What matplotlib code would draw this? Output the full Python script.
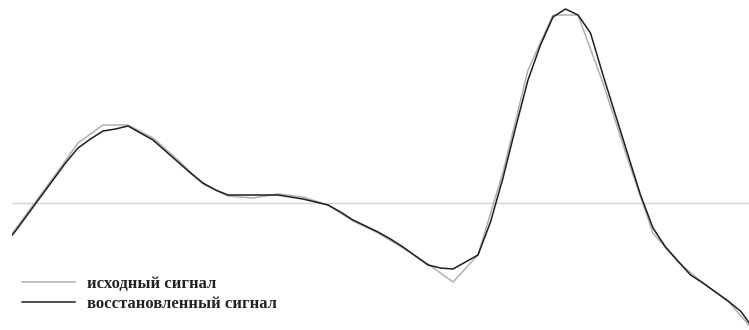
import numpy as np
import matplotlib.pyplot as plt

# исходный сигнал: отсчёты с шагом 1
t_src = np.arange(31)
y_src = [-0.43, -0.09, 0.25, 0.60, 0.78, 0.78, 0.65, 0.43, 0.19, 0.07,
         0.05, 0.09, 0.06, -0.02, -0.18, -0.30, -0.45, -0.61, -0.79, -0.52,
         0.31, 1.33, 1.88, 1.88, 1.20, 0.43, -0.30, -0.59, -0.80, -0.98,
         -1.27]

# восстановленный сигнал: шаг 0.5
t_rec = np.arange(61) * 0.5
y_rec = [-0.43, -0.28, -0.11, 0.06, 0.23, 0.40, 0.55, 0.64, 0.72, 0.74,
         0.77, 0.70, 0.63, 0.52, 0.41, 0.30, 0.20, 0.13, 0.08, 0.08,
         0.08, 0.08, 0.08, 0.06, 0.04, 0.01, -0.02, -0.09, -0.17, -0.23,
         -0.29, -0.36, -0.44, -0.53, -0.62, -0.65, -0.66, -0.59, -0.52, -0.19,
         0.25, 0.75, 1.23, 1.58, 1.86, 1.94, 1.88, 1.70, 1.28, 0.88,
         0.48, 0.08, -0.25, -0.44, -0.58, -0.72, -0.80, -0.89, -0.98, -1.08,
         -1.25]

labels = ["исходный сигнал", "восстановленный сигнал"]

W, H = 749, 330
fig = plt.figure(figsize=(W / 100, H / 100), dpi=100)
ax = fig.add_axes([12 / W, 0, 1 - 12 / W, 1])

ax.axhline(0, color="#d4d4d4", lw=1.0, zorder=1)
ax.plot(t_src, y_src, color="#b0b0b0", lw=1.1, label=labels[0], zorder=2)
ax.plot(t_rec, y_rec, color="#1e1e1e", lw=1.1, label=labels[1], zorder=3)

ax.set_xlim(0.36, 29.84)
ax.set_ylim(-1.27, 2.03)
ax.axis("off")

fs = 12
leg = fig.legend(loc="upper left", bbox_to_anchor=(22 / W, 1 - 276 / H),
                 frameon=False, borderpad=0, borderaxespad=0,
                 handlelength=3.2, handletextpad=0.72, labelspacing=0.24,
                 prop={"family": "Liberation Serif", "weight": "bold", "size": fs})
for txt in leg.get_texts():
    txt.set_color("#222222")

fig.savefig("out.png", dpi=100)
